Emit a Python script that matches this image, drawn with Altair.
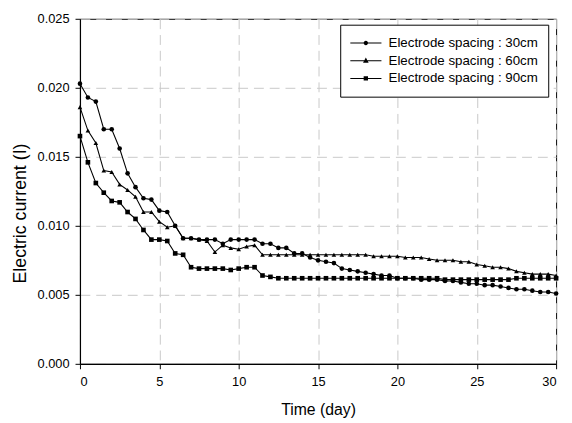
import altair as alt
import pandas as pd

days = [0, 0.5, 1, 1.5, 2, 2.5, 3, 3.5, 4, 4.5, 5, 5.5, 6, 6.5, 7, 7.5, 8, 8.5, 9, 9.5,
        10, 10.5, 11, 11.5, 12, 12.5, 13, 13.5, 14, 14.5, 15, 15.5, 16, 16.5, 17, 17.5,
        18, 18.5, 19, 19.5, 20, 20.5, 21, 21.5, 22, 22.5, 23, 23.5, 24, 24.5, 25, 25.5,
        26, 26.5, 27, 27.5, 28, 28.5, 29, 29.5, 30]

spacing_30 = [0.0203, 0.0193, 0.0190, 0.0170, 0.0170, 0.0156, 0.0138, 0.0128, 0.0120, 0.0119,
              0.0111, 0.0110, 0.0100, 0.0091, 0.0091, 0.0090, 0.0090, 0.0090, 0.0087, 0.0090,
              0.0090, 0.0090, 0.0090, 0.0087, 0.0087, 0.0084, 0.0084, 0.0080, 0.0080, 0.0077,
              0.0075, 0.0074, 0.0073, 0.0069, 0.0068, 0.0067, 0.0066, 0.0065, 0.0064, 0.0064,
              0.0062, 0.0062, 0.0062, 0.0061, 0.0061, 0.0061, 0.0060, 0.0060, 0.0059, 0.0058,
              0.0058, 0.0057, 0.0057, 0.0056, 0.0055, 0.0054, 0.0054, 0.0053, 0.0052, 0.0052,
              0.0051]

spacing_60 = [0.0186, 0.0169, 0.0160, 0.0140, 0.0139, 0.0130, 0.0126, 0.0121, 0.0110, 0.0110,
              0.0103, 0.0099, 0.0100, 0.0091, 0.0091, 0.0090, 0.0089, 0.0081, 0.0086, 0.0084,
              0.0083, 0.0085, 0.0086, 0.0079, 0.0079, 0.0079, 0.0079, 0.0079, 0.0079, 0.0079,
              0.0079, 0.0079, 0.0079, 0.0079, 0.0079, 0.0079, 0.0079, 0.0078, 0.0078, 0.0078,
              0.0078, 0.0077, 0.0077, 0.0077, 0.0076, 0.0075, 0.0075, 0.0075, 0.0074, 0.0074,
              0.0072, 0.0071, 0.0070, 0.0070, 0.0069, 0.0067, 0.0066, 0.0065, 0.0065, 0.0065,
              0.0064]

spacing_90 = [0.0165, 0.0146, 0.0131, 0.0124, 0.0118, 0.0117, 0.0110, 0.0105, 0.0097, 0.0090,
              0.0090, 0.0089, 0.0080, 0.0079, 0.0070, 0.0069, 0.0069, 0.0069, 0.0069, 0.0068,
              0.0069, 0.0070, 0.0070, 0.0064, 0.0063, 0.0062, 0.0062, 0.0062, 0.0062, 0.0062,
              0.0062, 0.0062, 0.0062, 0.0062, 0.0062, 0.0062, 0.0062, 0.0062, 0.0062, 0.0062,
              0.0062, 0.0062, 0.0062, 0.0062, 0.0062, 0.0062, 0.0061, 0.0061, 0.0061, 0.0061,
              0.0061, 0.0061, 0.0061, 0.0061, 0.0061, 0.0062, 0.0062, 0.0062, 0.0062, 0.0062,
              0.0062]

series_names = ["Electrode spacing : 30cm", "Electrode spacing : 60cm", "Electrode spacing : 90cm"]
x_ticks = [0, 5, 10, 15, 20, 25, 30]
y_ticks = [0.0, 0.005, 0.010, 0.015, 0.020, 0.025]

rows = []
for name, vals in zip(series_names, [spacing_30, spacing_60, spacing_90]):
    for d, v in zip(days, vals):
        rows.append({"day": d, "current": v, "series": name})
df = pd.DataFrame(rows)

FONT = "Liberation Sans"

x_enc = alt.X("day:Q", scale=alt.Scale(domain=[0, 30], nice=False),
              axis=alt.Axis(values=x_ticks, title="Time (day)", format="d"))
y_enc = alt.Y("current:Q", scale=alt.Scale(domain=[0, 0.025], nice=False),
              axis=alt.Axis(values=y_ticks, title="Electric current (I)", format=".3f",
                            titleFontSize=18, titleY=197))

base = alt.Chart(df).encode(x=x_enc, y=y_enc)

lines = base.mark_line(color="black", strokeWidth=1.1).encode(detail="series:N")

points = base.mark_point(filled=True, color="black", size=22, opacity=1).encode(
    shape=alt.Shape("series:N", scale=alt.Scale(domain=series_names,
                                                range=["circle", "triangle-up", "square"]),
                    legend=None)
)

bar = "M-1,-0.035H1V0.035H-1Z"
legend_paths = [
    bar + "M0.14,0A0.14,0.14,0,1,1,-0.14,0A0.14,0.14,0,1,1,0.14,0Z",
    bar + "M0,-0.2L0.18,0.13L-0.18,0.13Z",
    bar + "M-0.14,-0.14H0.14V0.14H-0.14Z",
]

legend_layer = base.mark_point(filled=True, color="black").encode(
    shape=alt.Shape("series:N", scale=alt.Scale(domain=series_names, range=legend_paths),
                    legend=alt.Legend(title=None, orient="none", legendX=264, legendY=6,
                                      symbolSize=1000, symbolFillColor="black",
                                      symbolStrokeColor="black", symbolStrokeWidth=0,
                                      symbolOpacity=1, clipHeight=17,
                                      labelFont=FONT, labelFontSize=13.5, labelColor="black",
                                      labelOffset=7, rowPadding=1,
                                      padding=10, strokeColor="black", fillColor="white",
                                      cornerRadius=0))
).transform_filter("false")

chart = alt.layer(lines, points, legend_layer).resolve_scale(shape="independent").properties(
    width=483, height=350,
    autosize=alt.AutoSizeParams(type="none"),
    padding={"left": 73, "top": 8, "right": 8, "bottom": 52},
).configure_view(stroke="black", strokeWidth=1).configure_axis(
    grid=True, gridColor="#c8c8c8", gridDash=[10, 6], gridWidth=1,
    domainColor="black", domainWidth=1.2, tickColor="black", tickSize=5,
    labelFont=FONT, labelFontSize=13, labelColor="black",
    titleFont=FONT, titleFontSize=16, titleFontWeight="normal", titleColor="black",
).configure_axisX(labelPadding=7, titlePadding=13).configure_axisY(labelPadding=6, titlePadding=8)

chart.save("out.html", embed_options={"renderer": "svg", "actions": False})
